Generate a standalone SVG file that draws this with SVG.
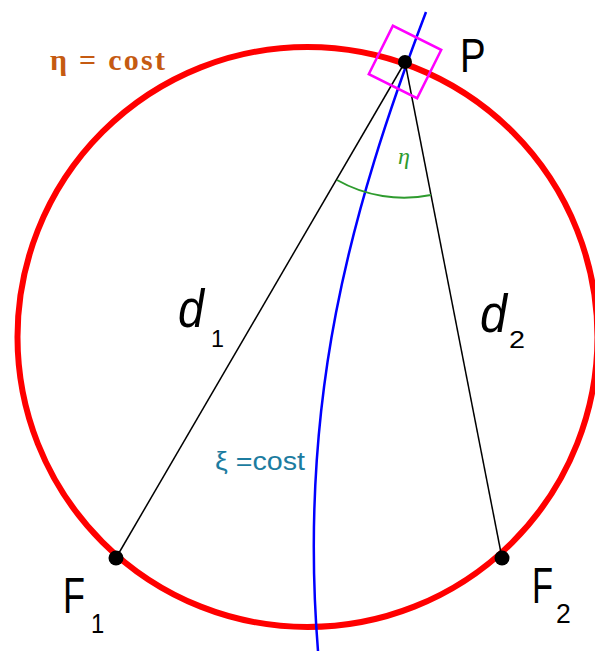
<svg xmlns="http://www.w3.org/2000/svg" width="595" height="651" viewBox="0 0 595 651">
<style>
.lbl{font-family:"Liberation Sans",Arial,sans-serif;fill:#000}
.conn{stroke:#000;stroke-width:1.5;fill:none}
.dot{fill:#000}
</style>
<rect width="595" height="651" fill="#fff"/>
<g id="eta-circle">
<circle cx="307.5" cy="337" r="290" fill="none" stroke="#ff0000" stroke-width="6"/>
<text x="50" y="70" font-family="'Liberation Serif','DejaVu Serif',serif" font-weight="bold" font-size="30" fill="#c55a11" textLength="115" lengthAdjust="spacing">η = cost</text>
</g>
<g id="xi-curve">
<path d="M426,12 C350,212 298,401 318,651" fill="none" stroke="#0000ff" stroke-width="2.5"/>
<text x="215" y="470" font-family="'Liberation Sans',Arial,sans-serif" font-size="25" fill="#1c7ca0" textLength="90" lengthAdjust="spacingAndGlyphs">ξ =cost</text>
</g>
<g id="connectors">
<line class="conn" x1="405" y1="62" x2="116" y2="558"/>
<line class="conn" x1="405" y1="62" x2="502" y2="558"/>
<path d="M337,180 A136,136 0 0 0 431,195" fill="none" stroke="#2e9b2e" stroke-width="2"/>
<text x="398" y="164" font-family="'Liberation Serif','DejaVu Serif',serif" font-style="italic" font-size="24" fill="#2e9b2e">η</text>
<text class="lbl" x="178" y="327" font-style="italic" font-size="54" textLength="26" lengthAdjust="spacingAndGlyphs">d</text>
<text class="lbl" x="211" y="347" font-size="24" textLength="13" lengthAdjust="spacingAndGlyphs">1</text>
<text class="lbl" x="480" y="332" font-style="italic" font-size="54" textLength="27" lengthAdjust="spacingAndGlyphs">d</text>
<text class="lbl" x="509" y="348" font-size="24" textLength="16" lengthAdjust="spacingAndGlyphs">2</text>
</g>
<g id="P">
<rect x="-27" y="-27" width="54" height="54" fill="none" stroke="#ff00ff" stroke-width="2.5" transform="translate(405,62) rotate(26.5)"/>
<circle class="dot" cx="405" cy="62" r="7"/>
<text class="lbl" transform="translate(460,72) scale(0.8,1)" font-size="48">P</text>
</g>
<g id="F1">
<circle class="dot" cx="116" cy="558" r="7.5"/>
<text class="lbl" transform="translate(63,613) scale(0.72,1)" font-size="50">F</text>
<text class="lbl" transform="translate(91,633) scale(0.85,1)" font-size="28">1</text>
</g>
<g id="F2">
<circle class="dot" cx="502" cy="558" r="7.5"/>
<text class="lbl" transform="translate(532,603) scale(0.69,1)" font-size="50">F</text>
<text class="lbl" transform="translate(556,623) scale(0.95,1)" font-size="28">2</text>
</g>
</svg>
